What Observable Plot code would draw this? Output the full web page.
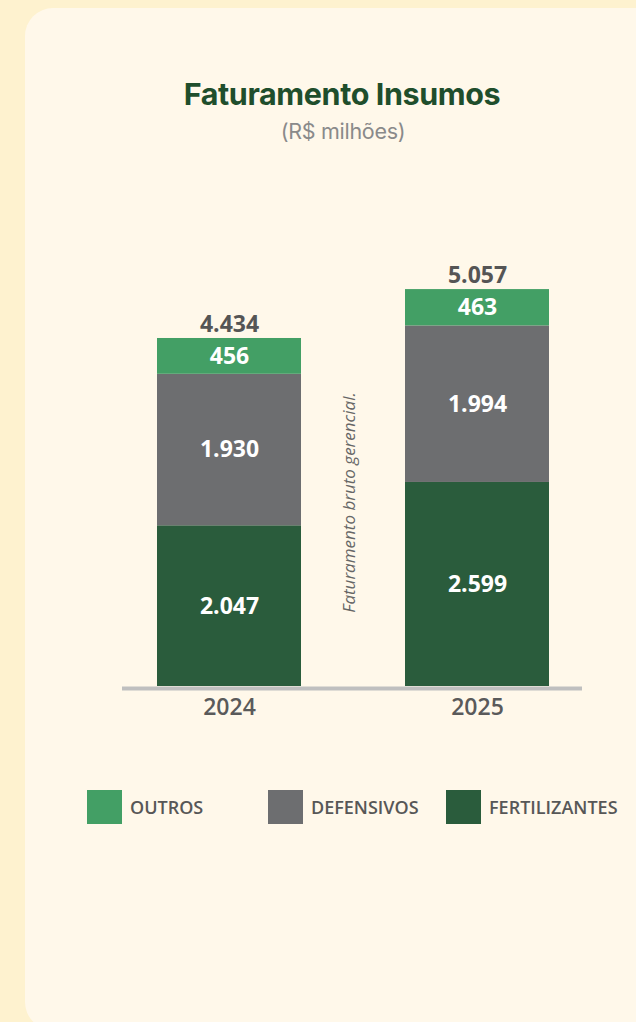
<!DOCTYPE html>
<html>
<head>
<meta charset="utf-8">
<script src="https://cdn.jsdelivr.net/npm/d3@7"></script>
<script src="https://cdn.jsdelivr.net/npm/@observablehq/plot@0.6"></script>
<style>
  html, body { margin: 0; padding: 0; }
  body { width: 636px; height: 1022px; background: #FEF2CF; position: relative; overflow: hidden; }
  #panel { position: absolute; left: 25px; top: 8px; width: 700px; height: 1022px; border-radius: 28px; background: #FFF8EA; }
  #title { position: absolute; left: 0; width: 684px; top: 75px; text-align: center; font-family: Inter, sans-serif; font-weight: 700; font-size: 30.5px; color: #1F4E2C; letter-spacing: -0.4px; line-height: 38px; }
  #subtitle { position: absolute; left: 0; width: 686px; top: 117px; text-align: center; font-family: Inter, sans-serif; font-weight: 400; font-size: 21.5px; color: #8A8A8A; letter-spacing: -0.3px; line-height: 28px; }
  #chart { position: absolute; left: 0; top: 160px; }
  #legend { position: absolute; left: 87px; top: 790px; display: grid; grid-template-columns: 181px 178px 190px; }
  .item { display: flex; align-items: center; font-family: "Open Sans", sans-serif; font-weight: 600; font-size: 18px; color: #575757; }
  .sw { width: 35px; height: 34px; margin-right: 8px; flex: none; }
</style>
</head>
<body>
<div id="panel"></div>
<div id="title">Faturamento Insumos</div>
<div id="subtitle">(R$ milhões)</div>
<div id="chart"></div>
<div id="legend"></div>
<script>
// Data
const years = ["2024", "2025"];
const categories = ["FERTILIZANTES", "DEFENSIVOS", "OUTROS"]; // bottom to top
const fertilizantes = [2047, 2599];
const defensivos = [1930, 1994];
const outros = [456, 463];
const totals = [4434, 5057];
const colors = ["#2A5C3C", "#6D6E70", "#439F65"];
const legendOrder = ["OUTROS", "DEFENSIVOS", "FERTILIZANTES"];
const note = "Faturamento bruto gerencial.";

const series = [fertilizantes, defensivos, outros];
const rows = [];
categories.forEach((c, i) => years.forEach((y, j) => rows.push({year: y, category: c, value: series[i][j]})));
const totalRows = years.map((y, j) => ({year: y, total: totals[j]}));

const br = d3.formatLocale({decimal: ",", thousands: ".", grouping: [3], currency: ["R$", ""]});
const fmt = br.format(",");

const chart = Plot.plot({
  width: 636,
  height: 580,
  marginTop: 129,
  marginBottom: 54,
  marginLeft: 122,
  marginRight: 54,
  style: {background: "transparent", fontFamily: "'Open Sans', sans-serif", overflow: "visible"},
  x: {domain: years, paddingInner: 0.42, paddingOuter: 0.135, align: 0.52, label: null},
  y: {domain: [0, d3.max(totals)], axis: null},
  color: {domain: categories, range: colors},
  marks: [
    Plot.barY(rows, Plot.stackY({x: "year", y: "value", z: "category", fill: "category", order: null})),
    Plot.text(rows, Plot.stackY({x: "year", y: "value", z: "category", order: null, text: d => fmt(d.value), fill: "white", fontSize: 23, fontWeight: 700})),
    Plot.text(totalRows, {x: "year", y: "total", text: d => fmt(d.total), dy: -14, fill: "#555555", fontSize: 23, fontWeight: 700}),
    Plot.ruleY([0], {stroke: "#BFBFBF", strokeWidth: 4, dy: 2}),
    Plot.axisX({tickSize: 0, tickPadding: 12, fontSize: 23, fontWeight: 600, fill: "#5A5A5A", label: null}),
    Plot.text([note], {frameAnchor: "middle", rotate: -90, dx: -3, dy: 14.5, fontStyle: "italic", fontSize: 17, fill: "#666666"})
  ]
});
document.getElementById("chart").appendChild(chart);

const legend = document.getElementById("legend");
legendOrder.forEach(c => {
  const item = document.createElement("div");
  item.className = "item";
  const sw = document.createElement("span");
  sw.className = "sw";
  sw.style.background = colors[categories.indexOf(c)];
  const label = document.createElement("span");
  label.textContent = c;
  item.appendChild(sw);
  item.appendChild(label);
  legend.appendChild(item);
});
</script>
</body>
</html>
